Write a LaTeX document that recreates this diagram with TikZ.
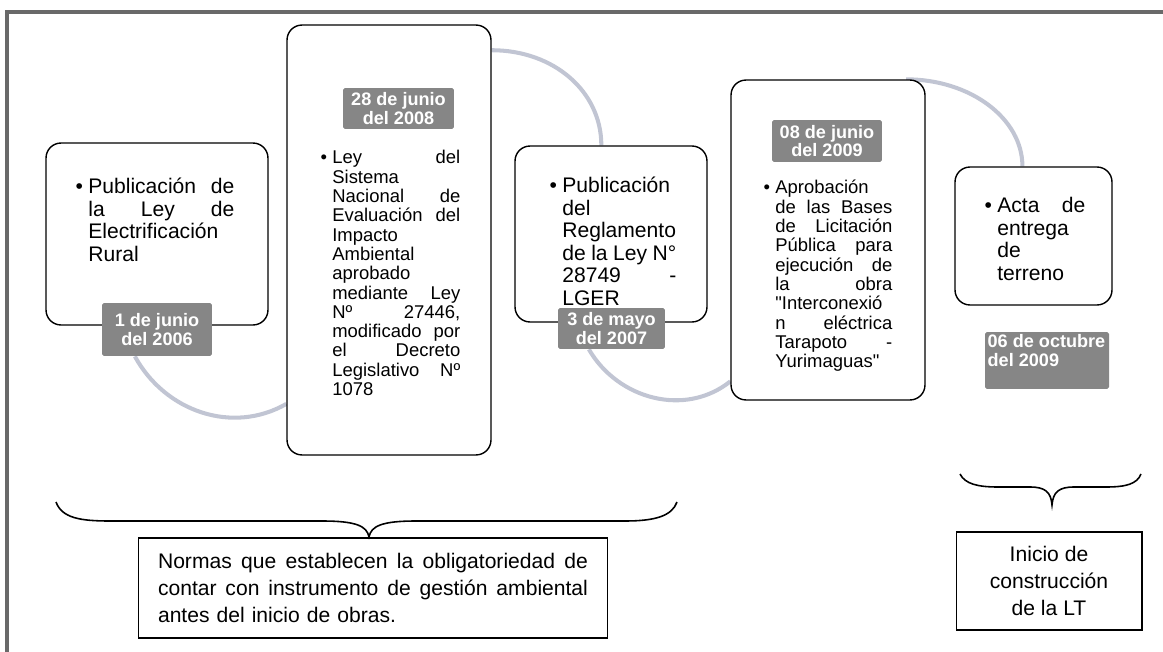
\documentclass[tikz,border=0pt]{standalone}
\usepackage{fontspec}
\setmainfont{Liberation Sans}
\usetikzlibrary{calc,backgrounds}
\definecolor{linkgray}{RGB}{193,197,211}
\definecolor{dategray}{RGB}{134,134,134}
\definecolor{framegray}{RGB}{105,105,105}
% one justified line of a box text
\newcommand{\jl}[1]{\makebox[\hsize][s]{\spaceskip=0pt\xspaceskip=0pt #1}}
\newcommand{\bul}{\llap{\textbullet\hspace{3pt}}}

\begin{document}
\begin{tikzpicture}[x=0.02cm,y=-0.02cm,
    stage/.style={draw=black,thick,fill=white,rounded corners=0.3cm,inner sep=0pt},
    date box/.style={fill=dategray,rounded corners=1pt,inner sep=0pt,text=white,
      font=\fontsize{10.3}{10.6}\selectfont\bfseries,align=center},
    item/.style={anchor=north west,inner sep=0pt},
    big item/.style={item,font=\fontsize{12}{12.8}\selectfont},
    small item/.style={item,font=\fontsize{10.5}{11}\selectfont},
    note/.style={draw=black,line width=0.6pt,inner sep=0pt,font=\fontsize{12}{15.6}\selectfont},
    link/.style={draw=linkgray,line width=2.3pt},
    brace/.style={draw=black,line width=0.9pt}]
  \useasboundingbox (0,0) rectangle (1163,652);
  \draw[framegray,line width=2.2pt] (7,652) -- (7,12) -- (1163,12);

  % the five stages
  \node[stage,minimum width=4.44cm,minimum height=3.64cm] (elec) at (157,234) {};
  \node[stage,minimum width=4.08cm,minimum height=8.6cm] (seia) at (389,240) {};
  \node[stage,minimum width=3.84cm,minimum height=3.52cm] (regl) at (611,234) {};
  \node[stage,minimum width=3.88cm,minimum height=6.4cm] (bases) at (828,240) {};
  \node[stage,minimum width=3.14cm,minimum height=2.76cm] (acta) at (1033.5,236) {};

  \node[big item,text width=2.92cm] (elec txt) at (88,178)
    {\bul\jl{Publicación de}\\\jl{la Ley de}\\Electrificación\\Rural};
  \node[small item,text width=2.56cm] (seia txt) at (332,150)
    {\bul\jl{Ley del}\\Sistema\\\jl{Nacional de}\\\jl{Evaluación del}\\Impacto\\Ambiental\\aprobado\\
     \jl{mediante Ley}\\\jl{Nº 27446,}\\\jl{modificado por}\\\jl{el Decreto}\\\jl{Legislativo Nº}\\1078};
  \node[big item,text width=2.28cm] (regl txt) at (562,177)
    {\bul Publicación\\del\\Reglamento\\\jl{de la Ley N°}\\\jl{28749 -}\\LGER};
  \node[small item,text width=2.34cm] (bases txt) at (775,180)
    {\bul Aprobación\\\jl{de las Bases}\\\jl{de Licitación}\\\jl{Pública para}\\\jl{ejecución de}\\
     \jl{la obra}\\\textquotedbl Interconexió\\\jl{n eléctrica}\\\jl{Tarapoto -}\\Yurimaguas\textquotedbl};
  \node[big item,text width=1.76cm] (acta txt) at (997,197)
    {\bul\jl{Acta de}\\entrega\\de\\terreno};

  % dates
  \node[date box,minimum width=2.2cm,minimum height=1.06cm] (f1) at (157,329.5) {1 de junio\\del 2006};
  \node[date box,minimum width=2.22cm,minimum height=0.82cm] (f2) at (398.5,108.5) {28 de junio\\del 2008};
  \node[date box,minimum width=2.14cm,minimum height=0.82cm] (f3) at (611.5,328.5) {3 de mayo\\del 2007};
  \node[date box,minimum width=2.2cm,minimum height=0.84cm] (f4) at (827,141) {08 de junio\\del 2009};
  \node[date box,minimum width=2.48cm,minimum height=1.14cm] (f5) at (1047,360.5) {};
  \node[date box,fill=none,anchor=north west,align=left,inner sep=1.5pt] (f5 txt) at (f5.north west)
    {06 de octubre\\del 2009};

  \begin{pgfonlayer}{background}
    \draw[link] ($(f1.south west)!0.3!(f1.south east)$) .. controls +(30,55) and +(-54,31)
      .. ($(seia.south west)!0.12!(seia.north west)$);
    \draw[link] ($(seia.north east)!0.06!(seia.south east)$) .. controls +(62,0) and +(0,-54)
      .. ($(regl.north west)!0.45!(regl.north east)$);
    \draw[link] ($(f3.south west)!0.29!(f3.south east)$) .. controls +(29,50) and +(-45,36)
      .. ($(bases.south west)!0.06!(bases.north west)$);
    \draw[link] ($(bases.north west)!0.9!(bases.north east)$) .. controls +(64,0) and +(0,-48)
      .. ($(acta.north west)!0.43!(acta.north east)$);
  \end{pgfonlayer}

  % braces and notes
  \draw[brace] (56,502) .. controls (62,518) and (80,521) .. (110,521) -- (322,521)
    .. controls (356,521) and (367,526) .. (369,537) .. controls (371,526) and (382,521) .. (416,521)
    -- (625,521) .. controls (655,521) and (672,516) .. (677,502);
  \draw[brace] (960,474) .. controls (965,484) and (978,487) .. (998,487) -- (1030,487)
    .. controls (1045,487) and (1051,492) .. (1052,505) .. controls (1053,492) and (1059,487) .. (1074,487)
    -- (1106,487) .. controls (1126,487) and (1137,484) .. (1141,474);

  \node[note,minimum width=9.4cm,minimum height=2cm,text width=8.6cm] (normas) at (373,588)
    {\jl{Normas que establecen la obligatoriedad de}\\\jl{contar con instrumento de gestión ambiental}\\antes del inicio de obras.};
  \node[note,minimum width=3.72cm,minimum height=1.96cm,align=center] (inicio) at (1049,581)
    {Inicio de\\construcción\\de la LT};
\end{tikzpicture}
\end{document}
